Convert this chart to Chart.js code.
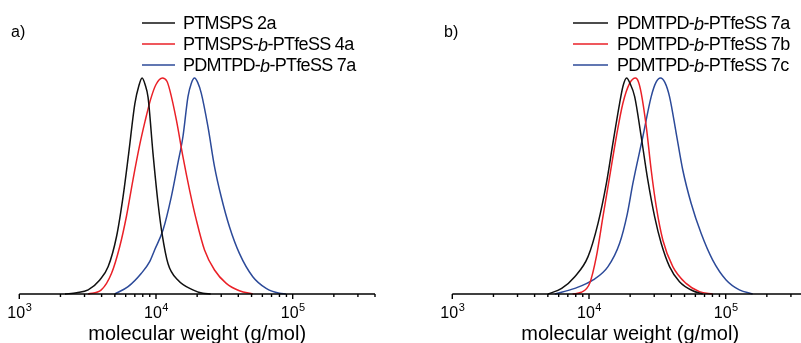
<!DOCTYPE html>
<html>
<head>
<meta charset="utf-8">
<script src="https://cdn.jsdelivr.net/npm/chart.js@4.4.0/dist/chart.umd.min.js"></script>
<style>
  html, body { margin: 0; padding: 0; background: #fff; overflow: hidden; }
  body { width: 801px; height: 343px; position: relative; }
  .panel { position: absolute; top: 0; height: 343px; }
  #panelA { left: 0; width: 400px; }
  #panelB { left: 400px; width: 410px; }
</style>
</head>
<body>
<div class="panel" id="panelA"><canvas id="chartA"></canvas></div>
<div class="panel" id="panelB"><canvas id="chartB"></canvas></div>
<script>
// sumbu x (g/mol), skala log
const xMin = 1000;
const xMax = 400000;
const majorTicks = [1000, 10000, 100000];
const minorTicks = [2000, 3000, 4000, 5000, 6000, 7000, 8000, 9000,
                    20000, 30000, 40000, 50000, 60000, 70000, 80000, 90000,
                    200000, 300000, 400000];

// panel a) PTMSPS 2a
const mwA2a  = [2160, 2630, 3190, 3880, 4470, 5140, 5740, 6310, 7000, 7500, 7910, 8320, 8750, 9510, 10350, 11070, 12250, 14450, 18600, 22030, 25100];
const sigA2a = [0, 0.006, 0.019, 0.065, 0.127, 0.265, 0.45, 0.65, 0.88, 0.965, 1.0, 0.97, 0.91, 0.65, 0.42, 0.28, 0.14, 0.065, 0.019, 0.003, 0];

// panel a) PTMSPS-b-PTfeSS 4a
const mwA4a  = [3190, 3980, 4730, 5430, 6080, 6790, 7600, 8320, 9120, 10000, 11140, 12020, 12590, 14090, 15740, 17620, 19720, 22650, 26790, 32660, 40740, 51050];
const sigA4a = [0, 0.019, 0.096, 0.22, 0.36, 0.53, 0.69, 0.80, 0.90, 0.97, 1.0, 0.985, 0.946, 0.806, 0.636, 0.48, 0.343, 0.204, 0.111, 0.049, 0.015, 0];

// panel a) PDMTPD-b-PTfeSS 7a
const mwA7a  = [4990, 6250, 7820, 8990, 9770, 11250, 12940, 14450, 15740, 17140, 18110, 19140, 20180, 21430, 23990, 26790, 29990, 34510, 40740, 51050, 63970, 79980, 89100];
const sigA7a = [0, 0.034, 0.096, 0.15, 0.204, 0.296, 0.45, 0.605, 0.728, 0.914, 0.975, 1.0, 0.98, 0.93, 0.775, 0.59, 0.45, 0.31, 0.188, 0.08, 0.026, 0.003, 0];

// panel b) PDMTPD-b-PTfeSS 7a
const mwB7a  = [5010, 6310, 7870, 9840, 11640, 13400, 14960, 16750, 17780, 18840, 19950, 21580, 24100, 26920, 30200, 33730, 38820, 45920, 57410, 67920];
const sigB7a = [0, 0.026, 0.08, 0.173, 0.327, 0.512, 0.698, 0.883, 0.965, 1.0, 0.975, 0.914, 0.728, 0.528, 0.358, 0.235, 0.127, 0.057, 0.015, 0];

// panel b) PDMTPD-b-PTfeSS 7b
const mwB7b  = [7590, 8790, 10120, 11320, 12650, 14160, 15850, 17700, 19820, 21930, 22910, 24100, 26240, 28510, 31050, 34670, 41020, 51290, 64270, 80350];
const sigB7b = [0, 0.008, 0.05, 0.173, 0.358, 0.543, 0.728, 0.883, 0.975, 1.0, 0.985, 0.93, 0.775, 0.574, 0.404, 0.25, 0.127, 0.049, 0.011, 0];

// panel b) PDMTPD-b-PTfeSS 7c
const mwB7c  = [5620, 7870, 10720, 13770, 16750, 19050, 20940, 24770, 28510, 30900, 33340, 35890, 38820, 43450, 48530, 55850, 66070, 80350, 100700, 125900, 157400];
const sigB7c = [0, 0.026, 0.065, 0.127, 0.235, 0.37, 0.512, 0.728, 0.914, 0.98, 1.0, 0.98, 0.914, 0.744, 0.574, 0.42, 0.281, 0.157, 0.065, 0.019, 0];

const COLORS = {
    black: '#111111',
    red: '#ea2027',
    blue: '#2c4a99'
};
const FONT = "'Liberation Sans', Arial, Helvetica, sans-serif";

/**
 * Gabungkan array x dan y menjadi titik {x, y}.
 */
function toPoints(xs, ys) {
    return xs.map((x, i) => ({ x: x, y: ys[i] }));
}

function makeDataset(xs, ys, color) {
    return {
        data: toPoints(xs, ys),
        borderColor: color,
        borderWidth: 1.5,
        pointRadius: 0,
        fill: false,
        cubicInterpolationMode: 'monotone',
        clip: 4
    };
}

/**
 * Plugin untuk menggambar sumbu x, label pangkat, legenda dan label panel.
 */
const panelDecor = {
    id: 'panelDecor',
    afterDraw(chart, args, opts) {
        const ctx = chart.ctx;
        const xs = chart.scales.x;
        const area = chart.chartArea;
        const y0 = area.bottom;
        ctx.save();

        // garis sumbu
        ctx.strokeStyle = '#000';
        ctx.lineWidth = 1.6;
        ctx.beginPath();
        ctx.moveTo(xs.getPixelForValue(xMin), y0);
        ctx.lineTo(xs.getPixelForValue(xMax), y0);
        ctx.stroke();

        // tick mayor dan minor (mengarah ke bawah)
        ctx.lineWidth = 1.4;
        majorTicks.forEach(v => {
            const px = xs.getPixelForValue(v);
            ctx.beginPath(); ctx.moveTo(px, y0); ctx.lineTo(px, y0 + 5); ctx.stroke();
        });
        minorTicks.forEach(v => {
            const px = xs.getPixelForValue(v);
            ctx.beginPath(); ctx.moveTo(px, y0); ctx.lineTo(px, y0 + 3); ctx.stroke();
        });

        // label 10^n
        ctx.fillStyle = '#000';
        ctx.textBaseline = 'alphabetic';
        majorTicks.forEach(v => {
            const px = xs.getPixelForValue(v);
            const exp = String(Math.round(Math.log10(v)));
            ctx.font = '16px ' + FONT;
            const wBase = ctx.measureText('10').width;
            ctx.font = '11px ' + FONT;
            const wExp = ctx.measureText(exp).width;
            const left = px - (wBase + wExp) / 2;
            ctx.font = '16px ' + FONT;
            ctx.textAlign = 'left';
            ctx.fillText('10', left, y0 + 24);
            ctx.font = '11px ' + FONT;
            ctx.fillText(exp, left + wBase + 0.5, y0 + 17);
        });

        // judul sumbu
        const mid = (xs.getPixelForValue(xMin) + xs.getPixelForValue(opts.titleEnd)) / 2;
        ctx.font = '20px ' + FONT;
        ctx.textAlign = 'center';
        ctx.fillText('molecular weight (g/mol)', mid, y0 + 46);

        // label panel
        ctx.font = '16px ' + FONT;
        ctx.textAlign = 'left';
        ctx.fillText(opts.panelLabel, opts.panelX, 37);

        // legenda
        opts.items.forEach((item, i) => {
            const y = opts.legendY + i * opts.legendGap;
            ctx.strokeStyle = item.color;
            ctx.lineWidth = 1.5;
            ctx.beginPath();
            ctx.moveTo(opts.lineX0, y);
            ctx.lineTo(opts.lineX1, y);
            ctx.stroke();

            let tx = opts.textX;
            ctx.textBaseline = 'middle';
            ctx.fillStyle = '#000';
            if ('letterSpacing' in ctx) ctx.letterSpacing = '-0.7px';
            item.parts.forEach(part => {
                ctx.font = (part.italic ? 'italic ' : '') + '18px ' + FONT;
                ctx.fillText(part.text, tx, y + 1.5);
                tx += ctx.measureText(part.text).width;
            });
            if ('letterSpacing' in ctx) ctx.letterSpacing = '0px';
        });

        ctx.restore();
    }
};

function legendParts(prefix, suffix) {
    if (suffix === undefined) return [{ text: prefix }];
    return [{ text: prefix + '-' }, { text: 'b', italic: true }, { text: '-' + suffix }];
}

/**
 * Membuat satu panel grafik GPC.
 */
function createPanel(canvasId, datasets, decor, padding) {
    const ctx = document.getElementById(canvasId).getContext('2d');
    return new Chart(ctx, {
        type: 'line',
        data: { datasets: datasets },
        options: {
            responsive: true,
            maintainAspectRatio: false,
            animation: false,
            events: [],
            layout: { padding: padding },
            plugins: {
                legend: { display: false },
                tooltip: { enabled: false },
                panelDecor: decor
            },
            scales: {
                x: { type: 'logarithmic', min: xMin, max: xMax, display: false },
                y: { type: 'linear', min: 0, max: 1, display: false }
            }
        },
        plugins: [panelDecor]
    });
}

createPanel('chartA', [
    makeDataset(mwA2a, sigA2a, COLORS.black),
    makeDataset(mwA4a, sigA4a, COLORS.red),
    makeDataset(mwA7a, sigA7a, COLORS.blue)
], {
    panelLabel: 'a)', panelX: 11, titleEnd: xMax,
    lineX0: 142, lineX1: 175, textX: 183, legendY: 23, legendGap: 21,
    items: [
        { color: COLORS.black, parts: legendParts('PTMSPS 2a') },
        { color: COLORS.red, parts: legendParts('PTMSPS', 'PTfeSS 4a') },
        { color: COLORS.blue, parts: legendParts('PDMTPD', 'PTfeSS 7a') }
    ]
}, { left: 19.3, right: 25, top: 78, bottom: 49 });

createPanel('chartB', [
    makeDataset(mwB7a, sigB7a, COLORS.black),
    makeDataset(mwB7b, sigB7b, COLORS.red),
    makeDataset(mwB7c, sigB7c, COLORS.blue)
], {
    panelLabel: 'b)', panelX: 44, titleEnd: xMax,
    lineX0: 173, lineX1: 208, textX: 217, legendY: 23, legendGap: 21,
    items: [
        { color: COLORS.black, parts: legendParts('PDMTPD', 'PTfeSS 7a') },
        { color: COLORS.red, parts: legendParts('PDMTPD', 'PTfeSS 7b') },
        { color: COLORS.blue, parts: legendParts('PDMTPD', 'PTfeSS 7c') }
    ]
}, { left: 52.3, right: 2, top: 78, bottom: 49 });
</script>
</body>
</html>
